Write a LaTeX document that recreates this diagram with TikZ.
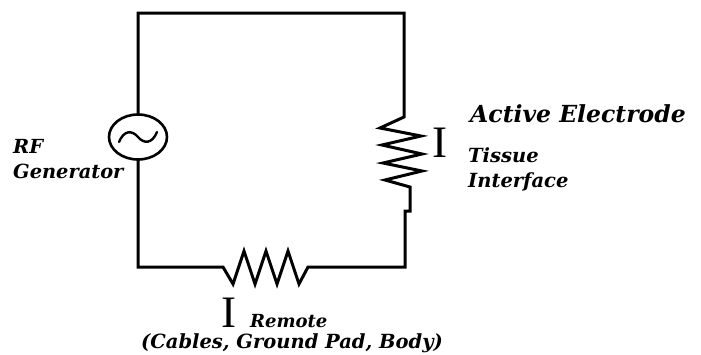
\documentclass[tikz,border=0pt]{standalone}
\usepackage{fontspec}
\setmainfont{DejaVu Serif}
\newfontfamily\lblfont{DejaVu Serif}
\newfontfamily\bigIfont{Liberation Serif}
\usetikzlibrary{shapes.geometric}
\begin{document}
\begin{tikzpicture}[x=1pt,y=-1pt,
  wire/.style={line width=3pt, line join=miter, line cap=rect},
  lbl/.style={inner sep=0pt, anchor=base west, font=\lblfont\bfseries\itshape},
  bigI/.style={inner sep=0pt, anchor=base west, font=\bigIfont\fontsize{45}{45}\selectfont}]
\useasboundingbox (0,0) rectangle (701,354);
% generator
\node[draw, line width=2.6pt, ellipse, inner sep=0pt, minimum width=58pt, minimum height=45pt] (gen) at (138,137) {};
\draw[line width=2.4pt, line cap=round]
  ([shift={(-19,5)}]gen.center) .. controls ([shift={(-14,-7)}]gen.center) and ([shift={(-6,-7)}]gen.center) .. (gen.center)
  .. controls ([shift={(6,7)}]gen.center) and ([shift={(14,7)}]gen.center) .. ([shift={(19,-5)}]gen.center);
% corners
\coordinate (tl) at (138,13);
\coordinate (tr) at (404,13);
\coordinate (ra) at (404,117);
\coordinate (rb) at (410,187);
\coordinate (rc) at (410,211);
\coordinate (rd) at (405,211);
\coordinate (br) at (405,267);
\coordinate (ba) at (308,267);
\coordinate (bb) at (223,267);
\coordinate (bl) at (138,267);
% wires and resistors
\draw[wire] (gen.north) -- (tl) -- (tr) -- (ra)
  -- (380,128) -- (421,136) -- (382,145) -- (422,154) -- (383,163) -- (422,171) -- (385,180)
  -- (rb) -- (rc) -- (rd) -- (br) -- (ba)
  -- (299,284) -- (288,251) -- (277,284) -- (266,251) -- (255,284) -- (244,251) -- (233,284)
  -- (bb) -- (bl) -- (gen.south);
% labels
\node[lbl, font=\lblfont\bfseries\itshape\fontsize{19.4}{19.4}\selectfont] (rf) at (13,153) {RF};
\node[lbl, font=\lblfont\bfseries\itshape\fontsize{19.4}{19.4}\selectfont] (gentxt) at (13,178) {Generator};
\node[lbl, font=\lblfont\bfseries\itshape\fontsize{23.5}{23.5}\selectfont] (active) at (470,122) {Active Electrode};
\node[bigI] (iright) at (432,157) {I};
\node[lbl, font=\lblfont\bfseries\itshape\fontsize{19.5}{19.5}\selectfont] (tissue) at (468,162) {Tissue};
\node[lbl, font=\lblfont\bfseries\itshape\fontsize{19.5}{19.5}\selectfont] (interface) at (468,187) {Interface};
\node[bigI] (ibottom) at (221,327) {I};
\node[lbl, font=\lblfont\bfseries\itshape\fontsize{18}{18}\selectfont] (remote) at (250,327) {Remote};
\node[lbl, anchor=base, font=\lblfont\bfseries\itshape\fontsize{19.5}{19.5}\selectfont] (cables) at (292,348) {(Cables, Ground Pad, Body)};
\end{tikzpicture}
\end{document}
